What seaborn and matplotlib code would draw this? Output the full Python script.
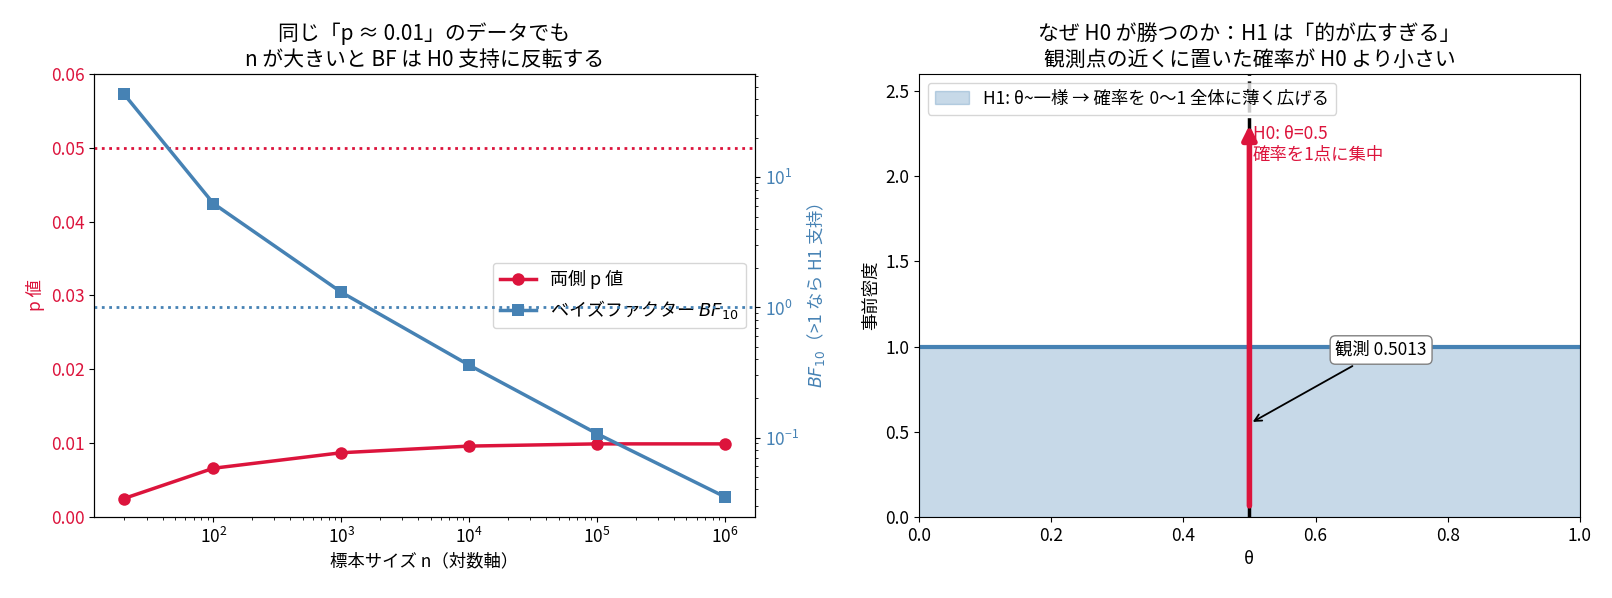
import matplotlib
matplotlib.use("Agg")
import matplotlib.pyplot as plt
import seaborn as sns
import numpy as np
import pandas as pd

plt.rcParams['font.family'] = ['Noto Sans CJK JP', 'DejaVu Sans']
plt.rcParams['axes.unicode_minus'] = False

# ---- data ----
sample_sizes = [20, 100, 1000, 10000, 100000, 1000000]
p_values = [0.0025, 0.0066, 0.0087, 0.0096, 0.0099, 0.0099]
bf10_values = [43.7, 6.3, 1.31, 0.36, 0.107, 0.035]
alpha_level = 0.05
bf_neutral = 1.0

theta_range = [0.0, 1.0]
h1_density = [1.0, 1.0]
h0_theta = 0.5
h0_arrow_top = 2.3
observed_theta = 0.5013

title_left = "同じ「p ≈ 0.01」のデータでも\nn が大きいと BF は H0 支持に反転する"
title_right = "なぜ H0 が勝つのか：H1 は「的が広すぎる」\n観測点の近くに置いた確率が H0 より小さい"

RED = "#DC143C"
BLUE = "#4682B4"
FS = 12.5
TFS = 15

fig, (ax1, ax3) = plt.subplots(1, 2, figsize=(16.12, 5.98), dpi=100)
fig.subplots_adjust(left=0.0583, right=0.9801, bottom=0.1355, top=0.8763, wspace=0.248)

df = pd.DataFrame({"n": sample_sizes, "p": p_values, "bf": bf10_values})

# ---- left panel ----
sns.lineplot(data=df, x="n", y="p", ax=ax1, color=RED, lw=2.5, marker="o",
             markersize=9, markeredgewidth=0, label="両側 p 値", legend=False)
ax1.set_xscale("log")
ax1.axhline(alpha_level, color=RED, ls=":", lw=2)
ax1.set_ylim(0, 0.06)
ax1.set_xlabel("標本サイズ n（対数軸）", fontsize=FS)
ax1.set_ylabel("p 値", color=RED, fontsize=FS)
ax1.tick_params(axis="y", labelcolor=RED, labelsize=FS)
ax1.tick_params(axis="x", labelsize=FS)
ax1.set_title(title_left, fontsize=TFS)

ax2 = ax1.twinx()
sns.lineplot(data=df, x="n", y="bf", ax=ax2, color=BLUE, lw=2.5, marker="s",
             markersize=9, markeredgewidth=0, label="ベイズファクター $BF_{10}$", legend=False)
ax2.set_yscale("log")
ax2.axhline(bf_neutral, color=BLUE, ls=":", lw=2)
ax2.set_ylabel("$BF_{10}$（>1 なら H1 支持）", color=BLUE, fontsize=FS)
ax2.tick_params(axis="y", labelcolor=BLUE, labelsize=FS)

h1, l1 = ax1.get_legend_handles_labels()
h2, l2 = ax2.get_legend_handles_labels()
ax1.legend(h1 + h2, l1 + l2, loc="center right", fontsize=13)

# ---- right panel ----
ax3.fill_between(theta_range, h1_density, color=BLUE, alpha=0.3,
                 label="H1: θ~一様 → 確率を 0〜1 全体に薄く広げる")
sns.lineplot(x=theta_range, y=h1_density, ax=ax3, color=BLUE, lw=3, legend=False)
ax3.axvline(h0_theta, color="black", ls="--", lw=2.5)
ax3.annotate("", xy=(h0_theta, h0_arrow_top), xytext=(h0_theta, 0),
             arrowprops=dict(arrowstyle="-|>", color=RED, lw=4, mutation_scale=20,
                             shrinkA=8, shrinkB=0))
ax3.text(h0_theta + 0.005, h0_arrow_top, "H0: θ=0.5\n確率を1点に集中", color=RED,
         ha="left", va="top", fontsize=FS)
ax3.annotate(f"観測 {observed_theta}", xy=(observed_theta, 0.55), xytext=(0.63, 0.98),
             ha="left", va="center", fontsize=FS,
             bbox=dict(boxstyle="round,pad=0.3", fc="white", ec="gray"),
             arrowprops=dict(arrowstyle="->", color="black", lw=1.3))
ax3.set_xlim(0, 1)
ax3.set_ylim(0, 2.6)
ax3.set_xlabel("θ", fontsize=FS)
ax3.set_ylabel("事前密度", fontsize=FS)
ax3.tick_params(labelsize=FS)
ax3.legend(loc="upper left", fontsize=FS)
ax3.set_title(title_right, fontsize=TFS)

fig.savefig("out.png", dpi=100)
